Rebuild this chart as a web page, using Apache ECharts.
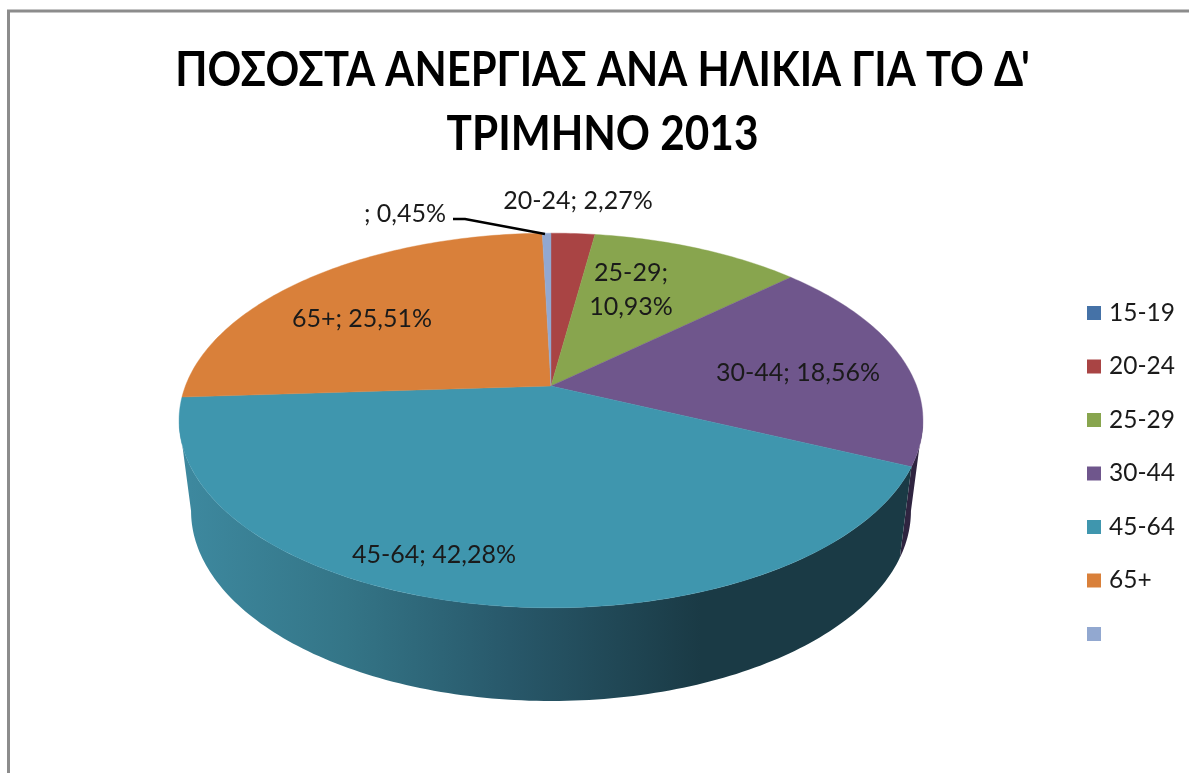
<!DOCTYPE html>
<html><head><meta charset="utf-8">
<style>html,body{margin:0;padding:0;background:#fff}#c{width:1189px;height:773px;filter:blur(0.5px)}</style>
<script src="https://cdn.jsdelivr.net/npm/echarts@6/dist/echarts.min.js"></script>
</head><body><div id="c"></div>
<script>
const titleLines = ["ΠΟΣΟΣΤΑ ΑΝΕΡΓΙΑΣ ΑΝΑ ΗΛΙΚΙΑ ΓΙΑ ΤΟ Δ'", "ΤΡΙΜΗΝΟ 2013"];
const categories = ['15-19','20-24','25-29','30-44','45-64','65+',''];
const shares = [0, 2.27, 10.93, 18.56, 42.28, 25.51, 0.45];
const valueLabels = ['', '2,27%', '10,93%', '18,56%', '42,28%', '25,51%', '0,45%'];
const colors = ['#4572a7','#a94444','#88a54e','#6f568c','#3f96ae','#d9803a','#92a8d0'];

// Layout, kept apart from the data
const FONT = 'Lato, "Noto Sans", sans-serif';
const K = 0.184;
const TOP = {cx:551, cy:386, R:365.6, S:181};
const BASE = {cx:551, cy:476, R:353.8, S:183.6};
const labelPos = [null,[578,201],[631,290],[798,373],[434,555],[362,319],[405,214]];
const labelBreak = [false,false,true,false,false,false,false];
const legendTop = 313, legendStep = 53.5;
const leader = [[453,219],[465,219],[545,234]];

const total = shares.reduce((a,b)=>a+b,0);
const cum = []; shares.reduce((a,b,i)=>{cum[i]=a;return a+b;},0);
function proj(ring,deg){
  const t=deg*Math.PI/180,u=Math.sin(t),v=-Math.cos(t),w=1-K*v;
  return [ring.cx+ring.R*u/w, ring.cy+ring.S*v/w];
}
function arc(ring,a,b){
  const pts=[],n=Math.max(2,Math.ceil(Math.abs(b-a)));
  for(let i=0;i<=n;i++)pts.push(proj(ring,a+(b-a)*i/n));
  return pts;
}
const WALL_MIN=100.6, WALL_MAX=259.4;
function angles(i,v){return [cum[i]/total*360,(cum[i]+v)/total*360];}
const wallFill = new echarts.graphic.LinearGradient(190,0,900,0,[
 {offset:0,color:'#3d889e'},{offset:.22,color:'#347587'},{offset:.45,color:'#28586a'},
 {offset:.72,color:'#1a3a45'},{offset:1,color:'#1a3a45'}],true);
const wallColors={3:'#2f2440',4:wallFill};

const chart=echarts.init(document.getElementById('c'));
const idx=shares.map((v,i)=>[i,v]);
chart.setOption({
 animation:false,
 backgroundColor:'#fff',
 graphic:[
  {type:'rect',shape:{x:8.5,y:11,width:1300,height:900},style:{fill:'none',stroke:'#8c8c8c',lineWidth:3},silent:true},
  {type:'polyline',shape:{points:leader},style:{fill:'none',stroke:'#000',lineWidth:2.4},z:20,silent:true},
  {type:'text',x:602.5,y:47,scaleX:0.89,z:20,style:{text:titleLines[0],align:'center',verticalAlign:'top',font:'bold 47px '+FONT,fill:'#000'}},
  {type:'text',x:602.5,y:111,scaleX:0.9,z:20,style:{text:titleLines[1],align:'center',verticalAlign:'top',font:'bold 47px '+FONT,fill:'#000'}}
 ],
 series:[
  {type:'custom',name:'walls',coordinateSystem:'none',data:idx,renderItem(p,api){
    const i=p.dataIndex,v=api.value(1);
    let [a,b]=angles(i,v); a=Math.max(a,WALL_MIN); b=Math.min(b,WALL_MAX);
    if(v<=0||b<=a||!wallColors[i])return null;
    return {type:'polygon',shape:{points:arc(TOP,a,b).concat(arc(BASE,b,a))},
      style:{fill:wallColors[i],stroke:null}};
  }},
  {type:'custom',name:'tops',coordinateSystem:'none',data:idx,renderItem(p,api){
    const i=p.dataIndex,v=api.value(1);
    if(v<=0)return null;
    const [a,b]=angles(i,v);
    return {type:'polygon',shape:{points:[[TOP.cx,TOP.cy]].concat(arc(TOP,a,b))},
      style:{fill:colors[i],stroke:colors[i],lineWidth:.4}};
  }},
  {type:'custom',name:'labels',coordinateSystem:'none',data:idx,z:10,renderItem(p,api){
    const i=p.dataIndex;
    if(api.value(1)<=0)return null;
    const sep=labelBreak[i]?';\n':'; ';
    return {type:'text',style:{text:categories[i]+sep+valueLabels[i],x:labelPos[i][0],y:labelPos[i][1],
      align:'center',verticalAlign:'middle',font:'25px '+FONT,lineHeight:34,fill:'#1a1a1a'}};
  }},
  {type:'custom',name:'legend',coordinateSystem:'none',data:idx,z:10,renderItem(p,api){
    const i=p.dataIndex,y=legendTop+legendStep*i;
    return {type:'group',children:[
      {type:'rect',shape:{x:1087,y:y-7,width:14,height:14},style:{fill:colors[i]}},
      {type:'text',style:{text:categories[i],x:1109,y:y,align:'left',verticalAlign:'middle',font:'24.5px '+FONT,fill:'#1a1a1a'}}
    ]};
  }}
 ]
});
</script></body></html>
